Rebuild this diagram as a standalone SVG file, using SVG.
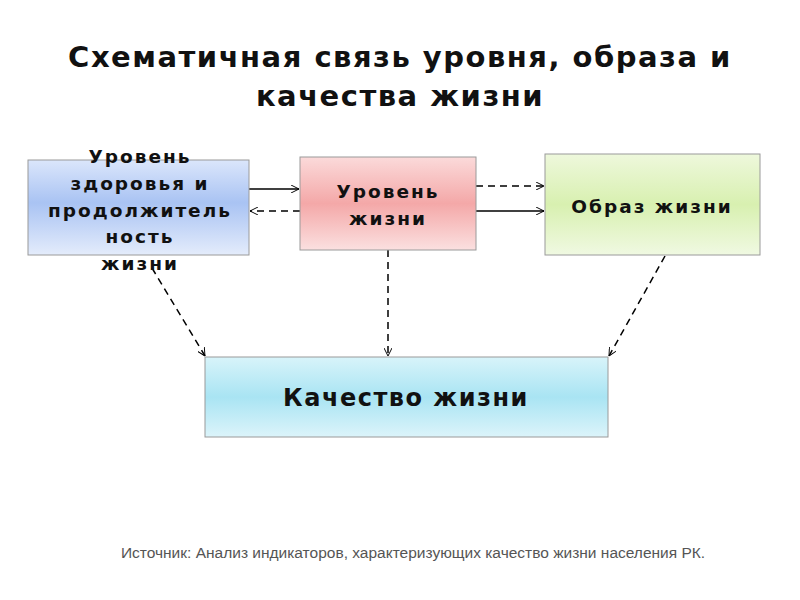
<svg xmlns="http://www.w3.org/2000/svg" width="800" height="600" viewBox="0 0 800 600">
<style>
.t{font-family:"DejaVu Sans",sans-serif;font-weight:bold;fill:#111;text-anchor:middle}
.n{font-size:18.5px;letter-spacing:2px}
.b{stroke:#9a9a9a;stroke-width:1}
.c{stroke:#000;stroke-width:1.5;fill:none;marker-end:url(#ah)}
.d{stroke-dasharray:7,5}
</style>
<defs>
<marker id="ah" viewBox="0 0 10 10" refX="10" refY="5" markerWidth="8" markerHeight="8" markerUnits="userSpaceOnUse" orient="auto"><path d="M0,0 L10,5 L0,10" fill="none" stroke="#000" stroke-width="1.2"/></marker>
<linearGradient id="gb" x1="0" y1="0" x2="0" y2="1"><stop offset="0" stop-color="#dbe6fb"/><stop offset="0.45" stop-color="#a9c3f3"/><stop offset="1" stop-color="#e4ecfb"/></linearGradient>
<linearGradient id="gr" x1="0" y1="0" x2="0" y2="1"><stop offset="0" stop-color="#fbdada"/><stop offset="0.5" stop-color="#f4a8a8"/><stop offset="1" stop-color="#fbe0e0"/></linearGradient>
<linearGradient id="gg" x1="0" y1="0" x2="0" y2="1"><stop offset="0" stop-color="#eef8dc"/><stop offset="0.5" stop-color="#d8f0b0"/><stop offset="1" stop-color="#f0f9e2"/></linearGradient>
<linearGradient id="gc" x1="0" y1="0" x2="0" y2="1"><stop offset="0" stop-color="#d8f4fa"/><stop offset="0.5" stop-color="#a9e4f3"/><stop offset="1" stop-color="#dcf4fa"/></linearGradient>
</defs>
<rect width="800" height="600" fill="#fff"/>
<text class="t" font-size="29" letter-spacing="1.5" x="400" y="67">Схематичная связь уровня, образа и</text>
<text class="t" font-size="29" letter-spacing="1.5" x="400" y="106">качества жизни</text>
<g id="connectors">
<line class="c" x1="249" y1="189" x2="299" y2="189"/>
<line class="c d" x1="300" y1="211" x2="250" y2="211"/>
<line class="c d" x1="476" y1="186" x2="544" y2="186"/>
<line class="c" x1="476" y1="211" x2="544" y2="211"/>
<line class="c d" x1="152" y1="268" x2="205" y2="356"/>
<line class="c d" x1="388" y1="250" x2="388" y2="356"/>
<line class="c d" x1="665" y1="256" x2="609" y2="356"/>
</g>
<g id="n1"><rect class="b" x="28" y="160" width="221" height="95" fill="url(#gb)"/>
<text class="t n"><tspan x="140" y="163">Уровень</tspan><tspan x="140" y="190">здоровья и</tspan><tspan x="140" y="217">продолжитель</tspan><tspan x="140" y="243">ность</tspan><tspan x="140" y="270">жизни</tspan></text></g>
<g id="n2"><rect class="b" x="300" y="157" width="176" height="93" fill="url(#gr)"/>
<text class="t n"><tspan x="388" y="198">Уровень</tspan><tspan x="388" y="225">жизни</tspan></text></g>
<g id="n3"><rect class="b" x="545" y="154" width="215" height="101" fill="url(#gg)"/>
<text class="t n" x="652" y="213">Образ жизни</text></g>
<g id="n4"><rect class="b" x="205" y="357" width="403" height="80" fill="url(#gc)"/>
<text class="t" font-size="24" letter-spacing="1.5" x="406" y="406">Качество жизни</text></g>
<text x="413" y="558" font-family="Liberation Sans,sans-serif" font-size="15.5" fill="#555" text-anchor="middle">Источник: Анализ индикаторов, характеризующих качество жизни населения РК.</text>
</svg>
